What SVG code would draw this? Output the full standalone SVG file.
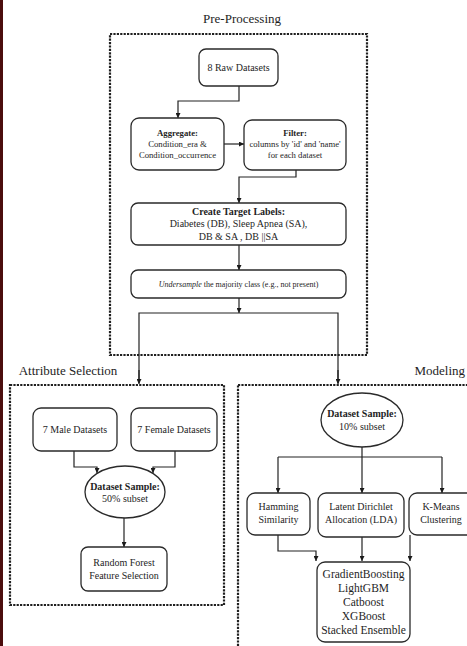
<svg xmlns="http://www.w3.org/2000/svg" width="467" height="646" viewBox="0 0 467 646">
<defs>
<marker id="ah" viewBox="0 0 10 10" refX="10" refY="5" markerWidth="5" markerHeight="5" orient="auto" markerUnits="userSpaceOnUse">
<path d="M0,0 L10,5 L0,10 z" fill="#1a1a1a"/>
</marker>
<style>
.bg{fill:#ffffff}
.strip{fill:#4b0d0d}
.grp{fill:none;stroke:#1f1f1f;stroke-width:2.2;stroke-dasharray:2.2 1.2}
.box{fill:#ffffff;stroke:#2a2a2a;stroke-width:1.3}
.ln{fill:none;stroke:#222;stroke-width:1.2}
.arr{fill:none;stroke:#222;stroke-width:1.2;marker-end:url(#ah)}
text{font-family:"Liberation Serif","Times New Roman",serif;fill:#1e1e1e;text-anchor:middle}
.title{font-size:13px}
.t10{font-size:10px}
.t9{font-size:8.7px}
.t8{font-size:8px}
.gb{font-size:11.5px}
.b{font-weight:bold}
</style>
</defs>
<rect class="bg" x="0" y="0" width="467" height="646"/>
<rect class="strip" x="0" y="0" width="3" height="646"/>

<g id="groups">
<rect class="grp" x="110" y="34" width="257" height="321"/>
<rect class="grp" x="10" y="385" width="214" height="220"/>
<rect class="grp" x="238" y="385" width="250" height="280"/>
<text class="title" x="242" y="23">Pre-Processing</text>
<text class="title" x="68" y="375">Attribute Selection</text>
<text class="title" x="465" y="375" style="text-anchor:end">Modeling</text>
</g>

<g id="connectors">
<path class="arr" d="M239,86 V101 H178 V118"/>
<path class="arr" d="M224,144 H244"/>
<path class="arr" d="M296,170 V177 H239 V203"/>
<path class="arr" d="M239,245 V270"/>
<path class="arr" d="M239,298 V313"/>
<path class="ln" d="M139,383 V313 H338 V383"/>
<path class="arr" d="M139,370 V384"/>
<path class="arr" d="M338,370 V384"/>
<path class="arr" d="M74,451 V467 H97 V473"/>
<path class="arr" d="M175,451 V467 H153 V473"/>
<path class="arr" d="M124,518 V547"/>
<path class="ln" d="M362,447 V457 M278,457 H442"/>
<path class="arr" d="M278,457 V493"/>
<path class="arr" d="M362,457 V493"/>
<path class="arr" d="M442,457 V493"/>
<path class="arr" d="M278,535 V551 H316 V561"/>
<path class="arr" d="M362,537 V561"/>
<path class="arr" d="M410,535 V561"/>
</g>

<g id="raw">
<rect class="box" x="199" y="49" width="79" height="37" rx="7"/>
<text class="t10" x="238.5" y="71">8 Raw Datasets</text>
</g>

<g id="aggregate">
<rect class="box" x="131" y="118" width="93" height="52" rx="8"/>
<text class="t9 b" x="177.5" y="136">Aggregate:</text>
<text class="t9" x="177.5" y="147">Condition_era &amp;</text>
<text class="t9" x="177.5" y="157.5">Condition_occurrence</text>
</g>

<g id="filter">
<rect class="box" x="244" y="120" width="102" height="50" rx="8"/>
<text class="t9 b" x="295" y="136">Filter:</text>
<text class="t9" x="295" y="147">columns by 'id' and 'name'</text>
<text class="t9" x="295" y="157.5">for each dataset</text>
</g>

<g id="target">
<rect class="box" x="131" y="203" width="215" height="42" rx="7"/>
<text class="t10 b" x="238.5" y="214.5">Create Target Labels:</text>
<text class="t10" x="238.5" y="226.5">Diabetes (DB), Sleep Apnea (SA),</text>
<text class="t10" x="238.5" y="239.5">DB &amp; SA , DB ||SA</text>
</g>

<g id="undersample">
<rect class="box" x="131" y="270" width="215" height="28" rx="7"/>
<text class="t8" x="238.5" y="287"><tspan font-style="italic">Undersample</tspan> the majority class (e.g., not present)</text>
</g>

<g id="male">
<rect class="box" x="33" y="408" width="84" height="43" rx="8"/>
<text class="t10" x="75" y="433">7 Male Datasets</text>
</g>

<g id="female">
<rect class="box" x="131" y="408" width="86" height="43" rx="8"/>
<text class="t10" x="174" y="433">7 Female Datasets</text>
</g>

<g id="sample50">
<ellipse class="box" cx="125" cy="492" rx="40" ry="26"/>
<text class="t10 b" x="125" y="490">Dataset Sample:</text>
<text class="t10" x="125" y="502">50% subset</text>
</g>

<g id="rf">
<rect class="box" x="81" y="547" width="86" height="44" rx="7"/>
<text class="t10" x="124" y="565.5">Random Forest</text>
<text class="t10" x="124" y="578.5">Feature Selection</text>
</g>

<g id="sample10">
<ellipse class="box" cx="362" cy="420" rx="41" ry="27"/>
<text class="t10 b" x="362" y="417">Dataset Sample:</text>
<text class="t10" x="362" y="429.5">10% subset</text>
</g>

<g id="hamming">
<rect class="box" x="247" y="493" width="63" height="42" rx="8"/>
<text class="t10" x="278.5" y="510">Hamming</text>
<text class="t10" x="278.5" y="523">Similarity</text>
</g>

<g id="lda">
<rect class="box" x="318" y="493" width="86" height="44" rx="8"/>
<text class="t10" x="361" y="510">Latent Dirichlet</text>
<text class="t10" x="361" y="523">Allocation (LDA)</text>
</g>

<g id="kmeans">
<rect class="box" x="409" y="493" width="66" height="42" rx="8"/>
<text class="t10" x="441" y="510">K-Means</text>
<text class="t10" x="441" y="523">Clustering</text>
</g>

<g id="models">
<rect class="box" x="317" y="562" width="93" height="80" rx="8"/>
<text class="gb" x="363.5" y="578">GradientBoosting</text>
<text class="gb" x="363.5" y="592">LightGBM</text>
<text class="gb" x="363.5" y="606">Catboost</text>
<text class="gb" x="363.5" y="620">XGBoost</text>
<text class="gb" x="363.5" y="634">Stacked Ensemble</text>
</g>
</svg>
